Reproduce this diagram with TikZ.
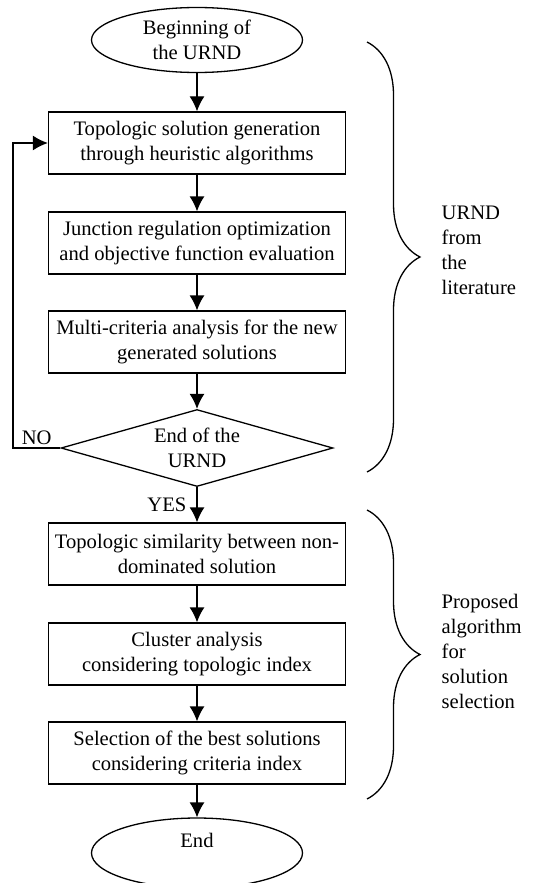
\documentclass[tikz,border=0pt]{standalone}
\usepackage{fontspec}
\setmainfont{Liberation Serif}
\usetikzlibrary{shapes.geometric, arrows.meta, decorations.pathreplacing, positioning}

\begin{document}
\begin{tikzpicture}[x=0.5pt, y=-0.5pt, node distance=50pt, line width=0.65pt, font=\fontsize{10.3}{12.5}\selectfont, >={Latex[length=7.5pt, width=7.5pt]}, block/.style={rectangle, draw, minimum width=148.5pt, minimum height=31pt, align=center, inner sep=2pt}, terminal/.style={ellipse, draw, minimum width=105.5pt, minimum height=32.5pt, align=center, inner sep=1pt}, decision/.style={diamond, draw, aspect=3.5, minimum width=136pt, minimum height=38.5pt, align=center, inner sep=0pt}, bracket/.style={decorate, decoration={brace, amplitude=26.5pt}}, note/.style={anchor=west, align=left, inner sep=0pt}]

  \useasboundingbox (0,0) rectangle (544,883);

  \node[terminal] (begin) at (197,40) {Beginning of\\the URND};
  \node[block, below of=begin, node distance=51.5pt] (topo) {Topologic solution generation\\through heuristic algorithms};
  \node[block, below of=topo, node distance=50pt] (junc) {Junction regulation optimization\\and objective function evaluation};
  \node[block, below of=junc, node distance=49.5pt] (multi) {Multi-criteria analysis for the new\\generated solutions};
  \node[decision, below of=multi, node distance=53pt] (dec) {End of the\\URND};
  \node[block, below of=dec, node distance=53pt] (simil) {Topologic similarity between non-\\dominated solution};
  \node[block, below of=simil, node distance=50pt] (clus) {Cluster analysis\\considering topologic index};
  \node[block, below of=clus, node distance=49.5pt] (sel) {Selection of the best solutions\\considering criteria index};
  \node[terminal, below of=sel, node distance=50pt, minimum height=35pt] (end) {End\\\mbox{}};

  \node[coordinate, left of=dec, node distance=92pt] (loop) {};

  \draw[->] (begin) -- (topo);
  \draw[->] (topo) -- (junc);
  \draw[->] (junc) -- (multi);
  \draw[->] (multi) -- (dec);
  \draw[->] (dec.west) -- node[above, pos=0.5, inner sep=1.5pt] {NO} (loop) |- (topo.west);
  \draw[->] (dec) -- node[left, inner sep=5pt] {YES} (simil);
  \draw[->] (simil) -- (clus);
  \draw[->] (clus) -- (sel);
  \draw[->] (sel) -- (end);

  \draw[bracket] (367,42) -- (367,472);
  \draw[bracket] (367,510) -- (367,799);
  \node[note] (lit) at (441,250) {URND\\from\\the\\literature};
  \node[note] (prop) at (441,651) {Proposed\\algorithm\\for\\solution\\selection};
\end{tikzpicture}
\end{document}
